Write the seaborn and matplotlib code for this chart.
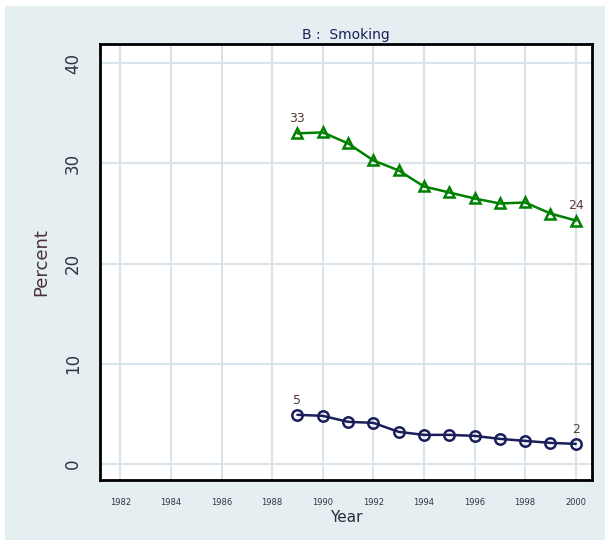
import matplotlib
matplotlib.use('Agg')
import matplotlib.pyplot as plt
from matplotlib.patches import Rectangle
import pandas as pd
import seaborn as sns

years = list(range(1989, 2001))
smoking_green = [33.0, 33.1, 32.0, 30.3, 29.3, 27.7, 27.1, 26.5, 26.0, 26.1, 25.0, 24.3]
smoking_blue = [4.9, 4.8, 4.2, 4.1, 3.2, 2.9, 2.9, 2.8, 2.5, 2.3, 2.1, 2.0]
xticks = list(range(1982, 2001, 2))
yticks = [0, 10, 20, 30, 40]

df = pd.DataFrame({
    'Year': years * 2,
    'Percent': smoking_green + smoking_blue,
    'group': ['green'] * len(years) + ['blue'] * len(years),
})

sns.set_style('white')
fig = plt.figure(figsize=(6.1, 5.46), dpi=100)
fig.patch.set_facecolor('white')
fig.patches.append(Rectangle((5 / 610, 6 / 546), 600 / 610, 534 / 546,
                             transform=fig.transFigure, facecolor='#e5eef0',
                             edgecolor='none', zorder=-10))
ax = fig.add_axes([0.164, 0.121, 0.806, 0.798])
ax.set_facecolor('white')

palette = {'green': '#008000', 'blue': '#1a1f5a'}
markers = {'green': '^', 'blue': 'o'}
sns.lineplot(data=df, x='Year', y='Percent', hue='group', style='group',
             palette=palette, markers=markers, dashes=False, ax=ax,
             legend=False, linewidth=1.8, markersize=7.5,
             markerfacecolor='none', markeredgewidth=1.8)
for line, name in zip(ax.lines, ['green', 'blue']):
    line.set_markeredgecolor(palette[name])

labels = [(years[0], smoking_green[0], '33'), (years[-1], smoking_green[-1], '24'),
          (years[0], smoking_blue[0], '5'), (years[-1], smoking_blue[-1], '2')]
for x, y, txt in labels:
    ax.annotate(txt, (x, y), xytext=(0, 8), textcoords='offset points',
                ha='center', fontsize=9, color='#5a3a3a')

ax.set_xlim(1981.2, 2000.63)
ax.set_ylim(-1.6, 41.9)
ax.set_xticks(xticks)
ax.set_xticklabels([str(t) for t in xticks], fontsize=6, color='#333344')
ax.set_yticks(yticks)
ax.set_yticklabels([str(t) for t in yticks], fontsize=12, rotation=90, va='center', color='#333344')
ax.grid(True, color='#d9e3ea', linewidth=1.5)
ax.set_axisbelow(True)
for s in ax.spines.values():
    s.set_visible(True)
    s.set_color('black')
    s.set_linewidth(2)
ax.tick_params(axis='both', which='both', direction='out', length=6, width=1.5, color='black', pad=7)
ax.set_xlabel('Year', fontsize=11, color='#2a2a3a', labelpad=2)
ax.set_ylabel('Percent', fontsize=13, color='#4a3040', labelpad=10)
ax.set_title('B :  Smoking', fontsize=10, color='#1a1f5a', pad=4)

fig.savefig('out.png', dpi=100, facecolor=fig.get_facecolor())
